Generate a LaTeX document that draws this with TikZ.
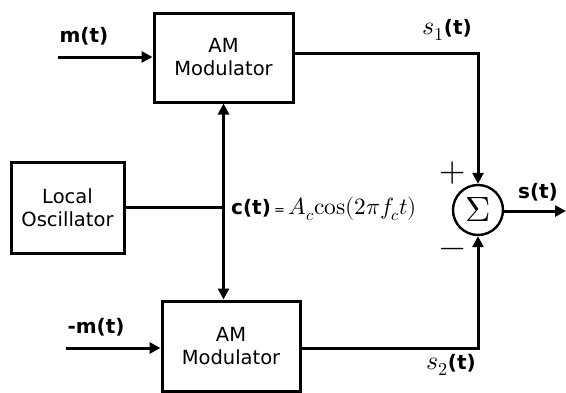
\documentclass[tikz,border=0pt]{standalone}
\usepackage{fontspec}
\usepackage{unicode-math}
\setmainfont{DejaVu Sans}
\setmathfont{Latin Modern Math}[Scale=1.3]
\usetikzlibrary{arrows.meta,calc}
\begin{document}
\begin{tikzpicture}[x=1pt,y=-1pt,
  blk/.style={draw,line width=3pt,align=center,inner sep=0pt,
    font=\fontsize{19.5}{23}\selectfont},
  conn/.style={line width=3pt},
  arr/.style={conn,-{Triangle[length=11pt,width=11pt]}},
  lbl/.style={font=\fontsize{20}{24}\selectfont\bfseries,inner sep=0pt},
  sgn/.style={font=\fontsize{26}{28}\selectfont,inner sep=0pt}]
\useasboundingbox (0,0) rectangle (566,392);
% blocks
\node[blk,minimum width=139pt,minimum height=89pt] (top) at (223.5,57.5) {AM\\Modulator};
\node[blk,minimum width=138pt,minimum height=90pt] (bot) at (231,346) {AM\\Modulator};
\node[blk,minimum width=113pt,minimum height=91pt] (osc) at (67.5,207.5) {Local\\Oscillator};
\node[draw,circle,line width=2.4pt,minimum size=50pt,inner sep=0pt,
  font=\fontsize{27}{30}\selectfont] (sum) at (478,210) {$\Sigma$};
% coordinates
\coordinate (min) at (58,57);
\coordinate (mmin) at (66,348);
\coordinate (j) at (223.5,207.5);
\coordinate (o1) at (292,53);
\coordinate (o2) at (300,348);
\coordinate (sout) at (566,211);
% connectors
\draw[arr] (min) -- (min -| top.west);
\draw[arr] (mmin) -- (mmin -| bot.west);
\draw[conn] (osc.east) -- (j);
\draw[arr] (j) -- (top.south);
\draw[arr] (j) -- (j |- bot.north);
\draw[arr] (o1) -| (sum.north);
\draw[arr] (o2) -| (sum.south);
\draw[arr] (sum.east |- sout) -- (sout);
% labels
\node[lbl] (lm) at (84,36) {m(t)};
\node[lbl] (lmm) at (96,327) {-m(t)};
\node[lbl] (ls1) at (447,30) {$s_1$(t)};
\node[lbl] (ls2) at (451,365) {$s_2$(t)};
\node[lbl] (ls) at (538,192) {s(t)};
\node[lbl,anchor=west] (lc) at (231,209) {c(t)\,{\fontsize{13}{15}\selectfont\mdseries=}\,{\fontsize{18}{22}\selectfont$A_c\symup{cos}(2\pi f_c t)$}};
\node[sgn] (plus) at (453,173) {$+$};
\node[sgn] (minus) at (453,253) {$-$};
\end{tikzpicture}
\end{document}
